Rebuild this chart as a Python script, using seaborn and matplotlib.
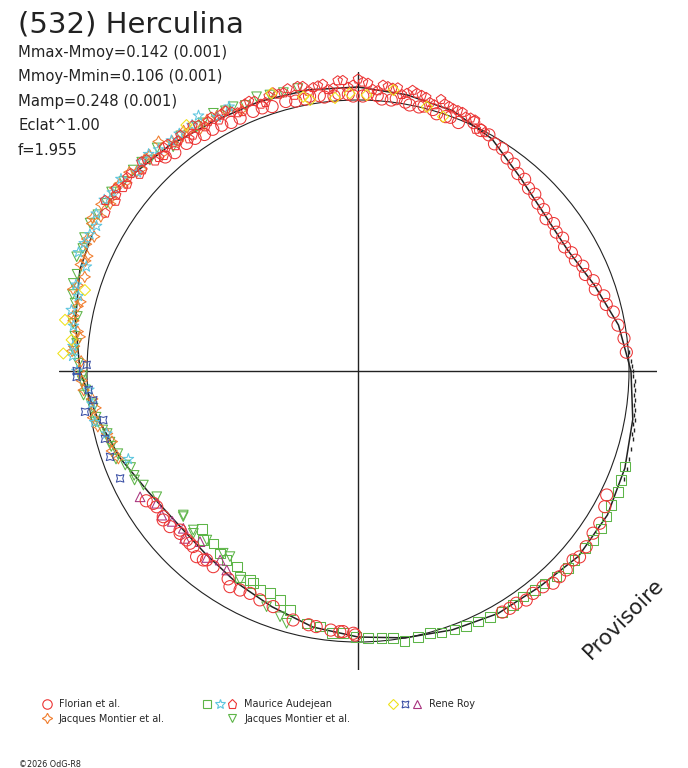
import numpy as np
import matplotlib
matplotlib.use("Agg")
import matplotlib.pyplot as plt
from matplotlib.lines import Line2D
from matplotlib.legend_handler import HandlerTuple
import seaborn as sns

# phase angle in degrees (clockwise from top), radius in plot units (reference circle = 271)
fit_phase = [0, 10, 20, 30, 40, 50, 60, 70, 80, 90, 100, 110, 120, 130, 140, 150, 160, 170,
             180, 190, 200, 210, 220, 230, 240, 250, 260, 270, 280, 290, 300, 310, 320, 330,
             340, 350, 360]
fit_r = [284, 280.5, 277, 268, 252.5, 243.5, 242, 251.5, 264.5, 273, 279, 284, 288, 288, 282,
         280, 275.5, 271, 266, 260, 251, 244, 238, 236.5, 242, 253.5, 265, 278, 287, 296,
         301.5, 300, 294, 288.5, 287, 285.5, 284]
mean_r = 271

# Florian et al. - circles
flo_phase = [318, 323, 327, 331, 335, 338, 342, 345, 349, 352, 355, 358, 1, 4, 7, 10, 13, 16, 19, 22,
             320, 325, 329, 333, 340, 347, 350, 353, 356, 359, 2, 5, 8, 11, 14, 17, 20,
             25, 27, 29, 31, 33, 35, 37, 39, 41, 43, 45, 47, 49, 51, 53, 55, 57, 59, 61, 63, 65, 67,
             69, 71, 73, 75, 77, 80, 83, 86,
             116.5, 118.8, 122.2, 124.6, 127.6, 130, 131.3, 133.7, 135.6, 137.4, 139.4, 141.8,
             143.7, 145.7, 147.4, 149.1, 180.6, 181, 183.3, 184,
             186, 189.3, 191, 194.6, 199.8, 203.2, 205.9, 208.3, 210.7, 212, 216.5, 218.7, 219.3,
             221, 223.2, 224.3, 225.4, 227.6, 228.2, 230.4, 232.6, 233.2, 236, 237.1, 238.5]
flo_r = [288, 285, 282, 281, 279, 280, 278, 279, 277, 278, 276, 277, 275, 276, 273, 273, 271, 272, 269, 268,
         285, 284, 282, 279, 280, 277, 279, 276, 278, 275, 277, 273, 275, 271, 273, 269, 270,
         274, 270, 270, 265, 265, 260, 259, 254, 254, 250, 250, 246, 246, 242, 245, 242, 244, 241, 244, 244,
         248, 247, 252, 251, 257, 257, 262, 264, 268, 269,
         277.9, 281.6, 285.7, 285.6, 288, 289.2, 286.3, 288, 288, 288.3, 284.2, 283,
         284.2, 281.1, 281.7, 281, 264, 262.3, 261, 261.3,
         260.5, 259, 258.5, 257.3, 250.4, 249, 247.2, 248.8, 250.8, 245.1, 243.4, 242.1, 244.2,
         246, 240.8, 240.7, 240.6, 240.9, 238.7, 244.1, 245.2, 243.2, 242.8, 243.7, 248.4]

# Maurice Audejean - squares, stars, pentagons
mau_sq_phase = [109.7, 112.5, 114.9, 117.9, 120.4, 122.9, 125.7, 128, 131.1, 133.2, 136, 138.7, 141.1,
                143.8, 146.5, 149.1, 151.8, 154.4, 157, 159.5, 162.3, 164.7, 167.3, 170.2, 172.5, 175,
                177.9, 180.4, 183.3, 185.7, 188.5, 191.5, 195.9, 198.8, 201.6, 204.1, 206.3, 207.3,
                209.8, 211.8, 214.9, 217.1, 220, 222.5, 224.6]
mau_sq_r = [283.6, 285, 286.7, 286.6, 287.9, 289.7, 289.5, 287.8, 287.5, 288.2, 285.7, 282.7, 281.4,
            279.6, 280.7, 281, 278.8, 277.9, 276.8, 275.8, 274.6, 271.9, 272.4, 274, 269.6, 268.3,
            266.9, 265.7, 262.7, 263.6, 258.5, 257.5, 248.5, 242, 239.1, 240, 236.7, 235.3,
            237.1, 230.2, 230.1, 228.7, 225, 229.1, 221.8]
mau_star_phase = [249, 256, 263, 270, 275, 282, 287, 291, 295, 299, 304, 309, 314, 318, 323, 328, 334,
                  259, 266, 273, 279, 285, 293, 297, 301, 306, 312, 316, 321, 326, 331]
mau_star_r = [246, 259, 268, 281, 286, 293, 295, 291, 302, 299, 306, 305, 301, 298, 297, 301, 294,
              268.2, 269.8, 285.7, 288.1, 289.5, 303.6, 300.9, 305.4, 303.6, 296.8, 301.4, 296.5,
              296.7, 290.4]
mau_pent_phase = [305, 307, 309, 311, 313, 315, 317, 319, 321, 323, 325, 327, 329, 331, 333, 335, 337,
                  339, 341, 343, 345, 347, 349, 351, 353, 355, 357, 359, 1, 3, 5, 7, 9, 11, 13, 15,
                  17, 19, 21, 23, 25, 27, 306, 312, 318, 324, 330, 336, 342, 348, 354, 0, 6, 12, 18, 24,
                  302, 304, 308, 310, 314, 316, 320, 322, 326, 328, 332, 334, 338, 340, 344, 346,
                  350, 352, 356, 358, 2, 4, 8, 10, 14, 16, 20, 22, 26, 28]
mau_pent_r = [296, 303, 297, 301, 295, 299, 292, 296, 290, 295, 288, 293, 291, 287, 292, 285, 290,
              289, 284, 291, 288, 283, 290, 287, 289, 284, 291, 286, 289, 282, 287, 285, 280, 286,
              283, 278, 284, 280, 279, 276, 277, 272, 299, 294, 290, 287, 293, 284, 289, 291, 283,
              292, 286, 284, 281, 277,
              298, 305, 298, 301, 301, 292, 296, 292, 296, 288, 291, 288, 291, 284, 288, 291,
              284, 288, 291, 284, 288, 281, 286, 282, 282, 277, 279, 279, 269, 270]

# Rene Roy - diamonds, 4-point stars, triangles
roy_dia_phase = [273.4, 276.2, 279.9, 286.5, 325.1, 342.7, 348.7, 350, 355.2, 358.3, 1.8, 7.2, 14.6, 18.5]
roy_dia_r = [295.2, 288, 297.4, 284.8, 299.8, 290.8, 279.7, 275.2, 274, 277.8, 276.1, 283.2, 273.1, 268.2]
roy_star_phase = [245.7, 250.9, 255, 259.1, 261.5, 263.7, 266, 268.8, 270, 271.3]
roy_star_r = [261, 262.4, 262, 259.4, 276, 266.3, 270, 281.4, 281.3, 271.4]
roy_tri_phase = [213.4, 216.1, 219, 222.8, 226, 228, 231, 233.7, 236.7, 240]
roy_tri_r = [238.4, 234, 240, 232.6, 241, 235.1, 239, 243.5, 240.9, 251.6]

# Jacques Montier et al. - 4-point stars (orange)
mon1_phase = [250, 254, 258, 262, 266, 270, 272, 275, 278, 281, 284, 287, 289, 291, 293, 295, 297,
              299, 301, 303, 305, 307, 309, 311, 313, 316, 319, 322, 325, 329, 333,
              252, 256, 260, 264, 268, 274, 277, 280, 283, 286, 292, 296, 300, 304, 308, 312,
              315, 318, 321, 324, 327, 331, 336]
mon1_r = [255, 256, 266, 265, 275, 279, 277, 285, 283, 290, 286, 293, 289, 297, 294, 300, 296,
          304, 300, 306, 301, 304, 299, 303, 296, 300, 304, 292, 294, 293, 292,
          258.8, 258.6, 269, 267.2, 276.4, 286.6, 280.3, 289, 287.7, 296.4, 294.1, 301.3, 306.5,
          298.9, 303.3, 297.8, 301, 292.2, 295.5, 296.8, 289.2, 291.4, 285.6]

# Jacques Montier et al. - down triangles (green)
mon2_phase = [195.8, 197.6, 201.2, 209.4, 214.6, 216.5, 221.8, 225.4, 226, 230.2, 230.5, 238,
              242, 245, 248, 251, 254, 257, 260, 263, 266, 268, 271.6, 275.6, 279.5, 283.5,
              287.1, 292.1, 298.9, 303.7, 311.8, 315.4, 320.5, 326.6, 330.7, 334.7, 339.7, 342.3,
              244, 247, 250, 253, 256, 259, 262, 265, 269, 274, 277, 281, 285, 289, 294, 296,
              301, 306, 309, 314, 318, 323, 328, 333, 337, 345, 348]
mon2_r = [262.2, 257.8, 252.8, 240, 225.5, 226.7, 226.8, 231.2, 228.9, 227.5, 226.4, 237.3,
          243, 247, 251, 254, 258, 262, 266, 269, 273, 276, 279.8, 282.7, 288.7, 291,
          297.9, 303.6, 306, 302.1, 301.5, 296.3, 290.6, 292.8, 295.5, 292.3, 292.4, 289.7,
          248.6, 247, 257.5, 258, 258.5, 267.2, 267.6, 275.5, 275.7, 284.6, 285.3, 285.9, 295.5,
          297.1, 301.2, 304.3, 303.4, 304.6, 301.2, 300.6, 300.2, 294.4, 292.6, 292, 288.5,
          288.2, 288.8]

# unlabelled black points near the right side
blk_phase = [84, 86, 88, 89, 90, 91, 92, 93, 94, 95, 96, 97, 98, 99, 100, 101, 102, 103, 104,
             106, 108, 110, 112]
blk_r = [270, 272, 273, 274, 275, 275, 277, 276, 278, 277, 279, 278, 280, 279, 281, 280, 282, 281,
         283, 284, 285, 286, 287]

RED = '#ec3434'
GREEN = '#5db548'
CYAN = '#5ec6df'
ORANGE = '#f07c2c'
YELLOW = '#efe21a'
BLUE = '#3a4fa5'
PURPLE = '#a8347f'
INK = '#222222'

sns.set_style('white')
plt.rcParams['font.family'] = ['DejaVu Sans']

W, H = 688, 768
fig = plt.figure(figsize=(W / 100, H / 100), dpi=100)
cx, cy, R = 358, 371, 299
ax = fig.add_axes([(cx - R) / W, (H - cy - R) / H, 2 * R / W, 2 * R / H], projection='polar')
ax.set_theta_zero_location('N')
ax.set_theta_direction(-1)


def draw(phase, r, marker, color, size, z=3, lw=0.75):
    sns.scatterplot(x=np.deg2rad(phase), y=r, marker=marker, s=size, facecolor='none',
                    edgecolor=color, color=color, linewidth=lw, clip_on=False, zorder=z,
                    legend=False, ax=ax)


sns.lineplot(x=np.deg2rad(fit_phase), y=fit_r, sort=False, color=INK, lw=1.1, zorder=2, ax=ax)
sns.scatterplot(x=np.deg2rad(blk_phase), y=blk_r, marker='|', s=10, color=INK, linewidth=1.0,
                clip_on=False, zorder=2, legend=False, ax=ax)

draw(mon2_phase, mon2_r, 'v', GREEN, 48)
draw(mau_sq_phase, mau_sq_r, 's', GREEN, 48)
draw(mon1_phase, mon1_r, (4, 1, 0), ORANGE, 66)
draw(mau_star_phase, mau_star_r, '*', CYAN, 66)
draw(roy_star_phase, roy_star_r, (4, 1, 45), BLUE, 58)
draw(roy_tri_phase, roy_tri_r, '^', PURPLE, 48)
draw(mau_pent_phase, mau_pent_r, 'p', RED, 52, z=4)
draw(flo_phase, flo_r, 'o', RED, 76, z=4)
draw(roy_dia_phase, roy_dia_r, 'D', YELLOW, 32, z=5)

ax.set_rlim(0, R)
ax.set_rgrids([mean_r], labels=[''])
ax.set_thetagrids([0, 90, 180, 270], labels=[''] * 4)
ax.xaxis.grid(True, color=INK, lw=1.0)
ax.yaxis.grid(True, color=INK, lw=0.8)
ax.spines['polar'].set_visible(False)
ax.set_xlabel('')
ax.set_ylabel('')
ax.tick_params(length=0)

# header text
fig.text(18 / W, 1 - 33 / H, '(532) Herculina', fontsize=21, color=INK, va='baseline')
info = ['Mmax-Mmoy=0.142 (0.001)', 'Mmoy-Mmin=0.106 (0.001)', 'Mamp=0.248 (0.001)',
        'Eclat^1.00', 'f=1.955']
for i, line in enumerate(info):
    fig.text(18 / W, 1 - (56.7 + 24.6 * i) / H, line, fontsize=10.6, color=INK, va='baseline')

fig.text(624 / W, 1 - 619 / H, 'Provisoire', fontsize=15.5, color=INK, rotation=45,
         ha='center', va='center', rotation_mode='anchor')
fig.text(19 / W, 1 - 767 / H, '\u00a92026 OdG-R8', fontsize=5.8, color=INK, va='baseline')


# legend
def handle(marker, color, ms):
    return Line2D([], [], ls='none', marker=marker, mfc='none', mec=color, ms=ms, mew=0.8)


blank = Line2D([], [], ls='none', marker='none')
handles = [
    (blank, blank, handle('o', RED, 6.8)),
    (blank, blank, handle((4, 1, 0), ORANGE, 7.5)),
    (handle('s', GREEN, 5.2), handle('*', CYAN, 7.5), handle('p', RED, 6.5)),
    (blank, blank, handle('v', GREEN, 6.0)),
    (handle('D', YELLOW, 5.0), handle((4, 1, 45), BLUE, 7.0), handle('^', PURPLE, 6.0)),
]
labels = ['Florian et al.', 'Jacques Montier et al.', 'Maurice Audejean',
          'Jacques Montier et al.', 'Rene Roy']
fig.legend(handles, labels, handler_map={tuple: HandlerTuple(ndivide=None, pad=0)}, ncol=3,
           loc='upper left', bbox_to_anchor=(16 / W, 1 - 699 / H), frameon=False, fontsize=7,
           handlelength=3.8, handletextpad=0.6, columnspacing=3.75, labelspacing=0.5,
           borderpad=0, borderaxespad=0)

fig.savefig('out.png', dpi=100, facecolor='white')
